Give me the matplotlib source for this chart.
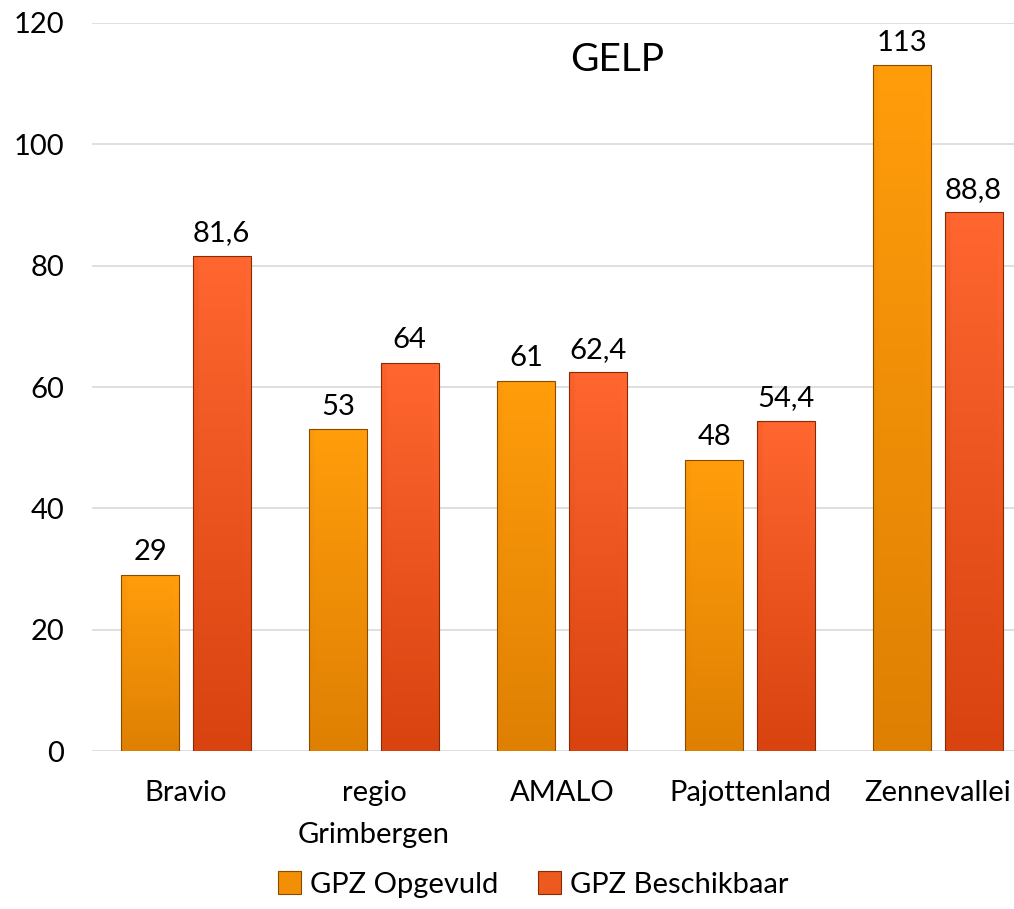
import matplotlib.pyplot as plt
import numpy as np
from matplotlib.patches import Rectangle
from matplotlib.colors import LinearSegmentedColormap

plt.rcParams['font.family'] = ['Lato', 'DejaVu Sans']

categories = ['Bravio', 'regio\nGrimbergen', 'AMALO', 'Pajottenland', 'Zennevallei']
opgevuld = [29, 53, 61, 48, 113]
beschikbaar = [81.6, 64, 62.4, 54.4, 88.8]
opgevuld_labels = ['29', '53', '61', '48', '113']
beschikbaar_labels = ['81,6', '64', '62,4', '54,4', '88,8']
yticks = [0, 20, 40, 60, 80, 100, 120]

fig = plt.figure(figsize=(10.14, 9.09), dpi=100)
ax = fig.add_axes([0.0907, 0.1738, 0.927, 0.8009])

x = np.arange(len(categories))
w = 0.308
off = 0.19
fs = 21

# gradient colours (top -> bottom)
cmap_or = LinearSegmentedColormap.from_list('or', ['#df8003', '#ff9d0b'])
cmap_rd = LinearSegmentedColormap.from_list('rd', ['#d8430f', '#ff6630'])


def gradient_bars(xs, vals, cmap, edge):
    bars = ax.bar(xs, vals, w, color='none', edgecolor=edge, linewidth=0.8, zorder=3)
    for b in bars:
        bx, by = b.get_x(), b.get_y()
        bw, bh = b.get_width(), b.get_height()
        # vertical gradient with a slight bevel at the sides
        grad = np.linspace(0, 1, 100)[:, None] * np.ones((1, 20))
        side = np.ones(20)
        side[:2] = 0.88
        side[-2:] = 1.08
        img = np.clip(grad * side, 0, 1)
        im = ax.imshow(img, cmap=cmap, origin='lower', aspect='auto',
                       extent=(bx, bx + bw, by, by + bh), zorder=2, vmin=0, vmax=1)
        im.set_clip_path(Rectangle((bx, by), bw, bh, transform=ax.transData))
    return bars


b1 = gradient_bars(x - off, opgevuld, cmap_or, '#8a4a00')
b2 = gradient_bars(x + off, beschikbaar, cmap_rd, '#8a2a05')

for xi, v, lab in zip(x - off, opgevuld, opgevuld_labels):
    ax.annotate(lab, (xi, v), xytext=(0, 7), textcoords='offset points',
                ha='center', va='bottom', fontsize=fs)
for xi, v, lab in zip(x + off, beschikbaar, beschikbaar_labels):
    ax.annotate(lab, (xi, v), xytext=(0, 7), textcoords='offset points',
                ha='center', va='bottom', fontsize=fs)

ax.set_xlim(-0.5, len(categories) - 0.5)
ax.set_ylim(0, 120)
ax.set_yticks(yticks)
ax.set_yticklabels([str(t) for t in yticks], fontsize=fs)
ax.set_xticks(x)
ax.set_xticklabels(categories, fontsize=fs, linespacing=1.75, va='top')
ax.tick_params(axis='y', length=0, pad=20)
ax.tick_params(axis='x', length=0, pad=21)
ax.grid(axis='y', color='#d9d9d9', linewidth=1.2, zorder=0)
ax.set_axisbelow(True)
for s in ax.spines.values():
    s.set_visible(False)

ax.text(0.559, 0.949, 'GELP', transform=ax.transAxes, ha='center', va='center', fontsize=28)

h1 = Rectangle((0, 0), 1, 1, facecolor='#f28f05', edgecolor='#8a4a00', linewidth=0.8)
h2 = Rectangle((0, 0), 1, 1, facecolor='#ec5a20', edgecolor='#8a2a05', linewidth=0.8)
fig.legend([h1, h2], ['GPZ Opgevuld', 'GPZ Beschikbaar'], loc='center',
           bbox_to_anchor=(0.526, 0.027), ncol=2, frameon=False, fontsize=fs,
           handlelength=0.8, handleheight=0.8, handletextpad=0.3, columnspacing=1.35)

fig.savefig('out.png', dpi=100)
